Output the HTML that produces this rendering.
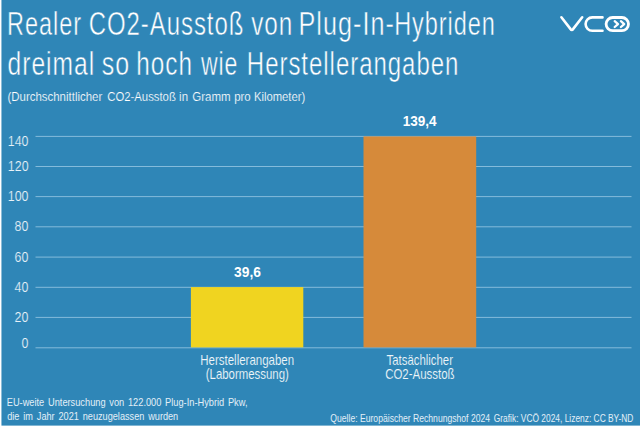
<!DOCTYPE html>
<html lang="de">
<head>
<meta charset="utf-8">
<title>Realer CO2-Ausstoß von Plug-In-Hybriden</title>
<style>
html,body{margin:0;padding:0;}
body{width:640px;height:430px;overflow:hidden;background:#fff;font-family:"Liberation Sans",sans-serif;position:relative;}
.t{position:absolute;left:0;top:0;display:block;white-space:nowrap;color:#fff;transform-origin:0 0;line-height:1;margin:0;}
.ax{font-size:14.2px;color:#e9f3f9;-webkit-text-stroke:.2px #2f86b7;}
.h{font-size:32.5px;-webkit-text-stroke:.5px #2f86b7;}
.cat{font-size:13.9px;color:#eef6fa;-webkit-text-stroke:.12px #2f86b7;}
.ft{font-size:10.3px;color:#e3eff7;}
.sb{font-size:13.3px;color:#fff;-webkit-text-stroke:.18px #2f86b7;}
.val{font-size:13.8px;font-weight:bold;}
</style>
</head>
<body>
<!-- background, gridlines and bars -->
<svg id="chart" style="position:absolute;left:0;top:0" width="640" height="430" viewBox="0 0 640 430">
 <rect id="bg" x="1.45" y="0" width="638.55" height="425.6" fill="#2f86b7"/>
 <g fill="#84bbdb">
  <rect x="35.5" y="135.9" width="596" height="1"/>
  <rect x="35.5" y="166" width="596" height="1"/>
  <rect x="35.5" y="196.1" width="596" height="1"/>
  <rect x="35.5" y="226.3" width="596" height="1"/>
  <rect x="35.5" y="256.6" width="596" height="1"/>
  <rect x="35.5" y="286.8" width="596" height="1"/>
  <rect x="35.5" y="316.9" width="596" height="1"/>
  <rect x="35.5" y="347.3" width="596" height="1"/>
 </g>
 <rect id="by" x="190.9" y="287.1" width="112.4" height="60.3" fill="#f0d420"/>
 <rect id="bo" x="363.5" y="136.4" width="112.7" height="211" fill="#d68a3a"/>
</svg>
<h1 id="h1" style="margin:0;font:inherit">
<span class="t h" id="w11" style="letter-spacing:1.3px;transform:translate(7.12px,8.25px) scaleX(0.7231);">Realer</span>
<span class="t h" id="w12" style="letter-spacing:1.3px;transform:translate(88.68px,8.25px) scaleX(0.7372);">CO2-Ausstoß</span>
<span class="t h" id="w13" style="letter-spacing:1.3px;transform:translate(251.23px,8.25px) scaleX(0.7471);">von</span>
<span class="t h" id="w14" style="letter-spacing:1.3px;transform:translate(298.53px,8.25px) scaleX(0.7757);">Plug-In-</span><span class="t h" id="w15" style="letter-spacing:1.3px;transform:translate(394.13px,8.25px) scaleX(0.7235);">Hybriden</span>
<br>
<span class="t h" id="w21" style="letter-spacing:1.3px;transform:translate(7.56px,47.70px) scaleX(0.7577);">dreimal</span>
<span class="t h" id="w22" style="letter-spacing:1.3px;transform:translate(101.66px,47.70px) scaleX(0.7689);">so</span>
<span class="t h" id="w23" style="letter-spacing:1.3px;transform:translate(136.22px,47.70px) scaleX(0.7491);">hoch</span>
<span class="t h" id="w24" style="letter-spacing:1.3px;transform:translate(200.91px,47.70px) scaleX(0.7095);">wie</span>
<span class="t h" id="w25" style="letter-spacing:1.3px;transform:translate(246.85px,47.70px) scaleX(0.7385);">Herstellerangaben</span>
</h1>
<p id="sub" style="margin:0">
<span class="t sb" id="s1" style="transform:translate(7.48px,90.30px) scaleX(0.8605);">(Durchschnittlicher</span>
<span class="t sb" id="s2" style="transform:translate(107.20px,90.30px) scaleX(0.8523);">CO2-Ausstoß</span>
<span class="t sb" id="s3" style="transform:translate(179.10px,90.30px) scaleX(0.8600);">in</span>
<span class="t sb" id="s4" style="transform:translate(192.26px,90.30px) scaleX(0.8675);">Gramm</span>
<span class="t sb" id="s5" style="transform:translate(234.13px,90.30px) scaleX(0.8600);">pro</span>
<span class="t sb" id="s6" style="transform:translate(253.92px,90.30px) scaleX(0.8456);">Kilometer)</span>
</p>
<div id="axis">
<span class="t ax" id="a140" style="transform:translate(7.78px,134.00px) scaleX(0.8750);">140</span>
<span class="t ax" id="a120" style="transform:translate(7.83px,159.00px) scaleX(0.8750);">120</span>
<span class="t ax" id="a100" style="transform:translate(7.73px,189.00px) scaleX(0.8750);">100</span>
<span class="t ax" id="a80" style="transform:translate(14.60px,219.00px) scaleX(0.8750);">80</span>
<span class="t ax" id="a60" style="transform:translate(14.54px,250.00px) scaleX(0.8750);">60</span>
<span class="t ax" id="a40" style="transform:translate(14.57px,280.00px) scaleX(0.8750);">40</span>
<span class="t ax" id="a20" style="transform:translate(14.61px,310.00px) scaleX(0.8750);">20</span>
<span class="t ax" id="a0" style="transform:translate(21.45px,336.00px) scaleX(0.8750);">0</span>
</div>
<div id="values">
<span class="t val" id="v1" style="transform:translate(234.04px,266.40px) scaleX(0.9994);">39,6</span>
<span class="t val" id="v2" style="transform:translate(402.64px,115.00px) scaleX(0.9834);">139,4</span>
</div>
<div id="cats">
<span class="t cat" id="c1a" style="transform:translate(200.25px,354.00px) scaleX(0.8268);">Herstellerangaben</span>
<span class="t cat" id="c1b" style="transform:translate(205.77px,368.10px) scaleX(0.8208);">(Labormessung)</span>
<span class="t cat" id="c2a" style="transform:translate(386.61px,354.00px) scaleX(0.8188);">Tatsächlicher</span>
<span class="t cat" id="c2b" style="transform:translate(385.16px,368.10px) scaleX(0.8252);">CO2-Ausstoß</span>
</div>
<div id="foot">
<span class="t ft" id="f1a" style="word-spacing:1.3px;transform:translate(6.74px,397.80px) scaleX(0.8981);">EU-weite Untersuchung von 122.000 Plug-In-Hybrid Pkw,</span>
<span class="t ft" id="f1b" style="word-spacing:1.5px;transform:translate(7.20px,412.00px) scaleX(0.8888);">die im Jahr 2021 neuzugelassen wurden</span>
<span class="t ft" id="f2a" style="transform:translate(330.36px,413.70px) scaleX(0.8350);">Quelle: Europäischer Rechnungshof 2024</span>
<span class="t ft" id="f2b" style="transform:translate(493.78px,413.70px) scaleX(0.8148);">Grafik: VCÖ 2024, Lizenz: CC BY-ND</span>
</div>
<svg id="logo" style="position:absolute;left:555px;top:8px" width="80" height="32" viewBox="555 8 80 32">
 <g fill="none" stroke="#fff" stroke-width="2.6" stroke-linecap="round" stroke-linejoin="round">
  <path d="M561.4 17.3 L570.4 28.9 Q571.8 30.9 573.2 28.9 L582.2 17.3"/>
  <path d="M602.5 17.4 H592.3 A6.7 6.7 0 0 0 592.3 30.8 H602.5"/>
  <rect x="606.1" y="17.5" width="22.4" height="13.2" rx="6.6" stroke-width="2.8"/>
 </g>
 <g fill="none" stroke="#fff" stroke-width="2.3" stroke-linecap="round" stroke-linejoin="round">
  <path d="M614.7 21.2 L618 24.1 L614.7 27"/>
  <path d="M620.9 21.2 L624.2 24.1 L620.9 27"/>
 </g>
</svg>
</body>
</html>
